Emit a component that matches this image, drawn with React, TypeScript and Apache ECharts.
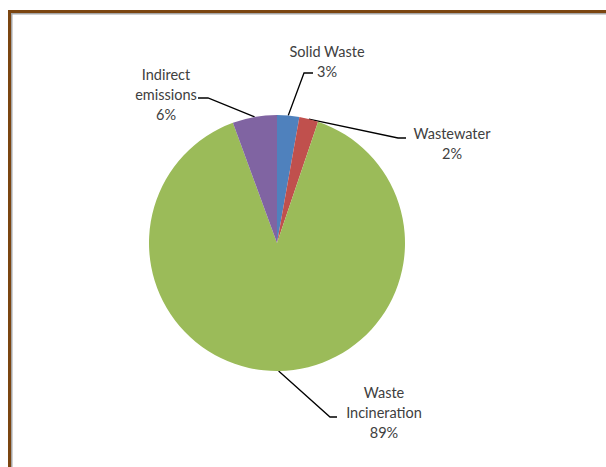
import React, { useEffect, useRef } from "react";
import * as echarts from "echarts";

const categories = ["Solid Waste", "Wastewater", "Waste Incineration", "Indirect emissions"];
const values = [2.8, 2.4, 89.2, 5.6];
const labelNames = ["Solid Waste", "Wastewater", "Waste\nIncineration", "Indirect\nemissions"];
const colors = ["#4F81BD", "#C0504D", "#9BBB59", "#8064A2"];

// label placement (centre of label, elbow of leader, end of leader)
const LABEL_LAYOUT = [
  { cx: 327, cy: 61, elbow: [304, 73], end: [313, 73] },
  { cx: 452, cy: 143, elbow: [398, 138], end: [406, 138] },
  { cx: 384, cy: 412, elbow: [330, 417], end: [337, 417] },
  { cx: 166, cy: 94, elbow: [208, 98], end: [198, 98] },
];

export default function App() {
  const ref = useRef<HTMLDivElement>(null);
  useEffect(() => {
    if (!ref.current) return;
    const chart = echarts.init(ref.current, null, { renderer: "svg" });
    chart.setOption({
      animation: false,
      backgroundColor: "#ffffff",
      graphic: [
        { type: "rect", shape: { x: 8, y: 10, width: 3, height: 457 }, style: { fill: "#7B4510" } },
        { type: "rect", shape: { x: 8, y: 10, width: 598, height: 3 }, style: { fill: "#7B4510" } },
        { type: "rect", shape: { x: 11, y: 13, width: 1.5, height: 454 }, style: { fill: "#A5A5A5" } },
        { type: "rect", shape: { x: 11, y: 13, width: 595, height: 1.5 }, style: { fill: "#A5A5A5" } },
      ],
      series: [
        {
          type: "pie",
          center: [277, 243],
          radius: 128,
          startAngle: 90,
          clockwise: true,
          avoidLabelOverlap: false,
          data: categories.map((c, i) => ({
            name: c,
            value: values[i],
            itemStyle: { color: colors[i], borderWidth: 0 },
          })),
          label: {
            show: true,
            position: "outside",
            formatter: (p: any) => labelNames[p.dataIndex] + "\n" + Math.round(p.percent) + "%",
            fontFamily: "Lato",
            fontSize: 14.5,
            fontWeight: "normal",
            lineHeight: 20,
            color: "#404040",
            align: "center",
          },
          labelLine: {
            show: true,
            length: 10,
            length2: 10,
            lineStyle: { color: "#000000", width: 1.3 },
          },
          labelLayout: (params: any) => {
            const L = LABEL_LAYOUT[params.dataIndex];
            const p0 = params.labelLinePoints ? params.labelLinePoints[0] : L.elbow;
            return {
              x: L.cx,
              y: L.cy,
              align: "center",
              verticalAlign: "middle",
              labelLinePoints: [p0, L.elbow, L.end],
            };
          },
          emphasis: { disabled: true },
        },
      ],
    });
    return () => chart.dispose();
  }, []);
  return (
    <div
      ref={ref}
      style={{ position: "fixed", left: 0, top: 0, width: 606, height: 467, background: "#fff" }}
    />
  );
}
